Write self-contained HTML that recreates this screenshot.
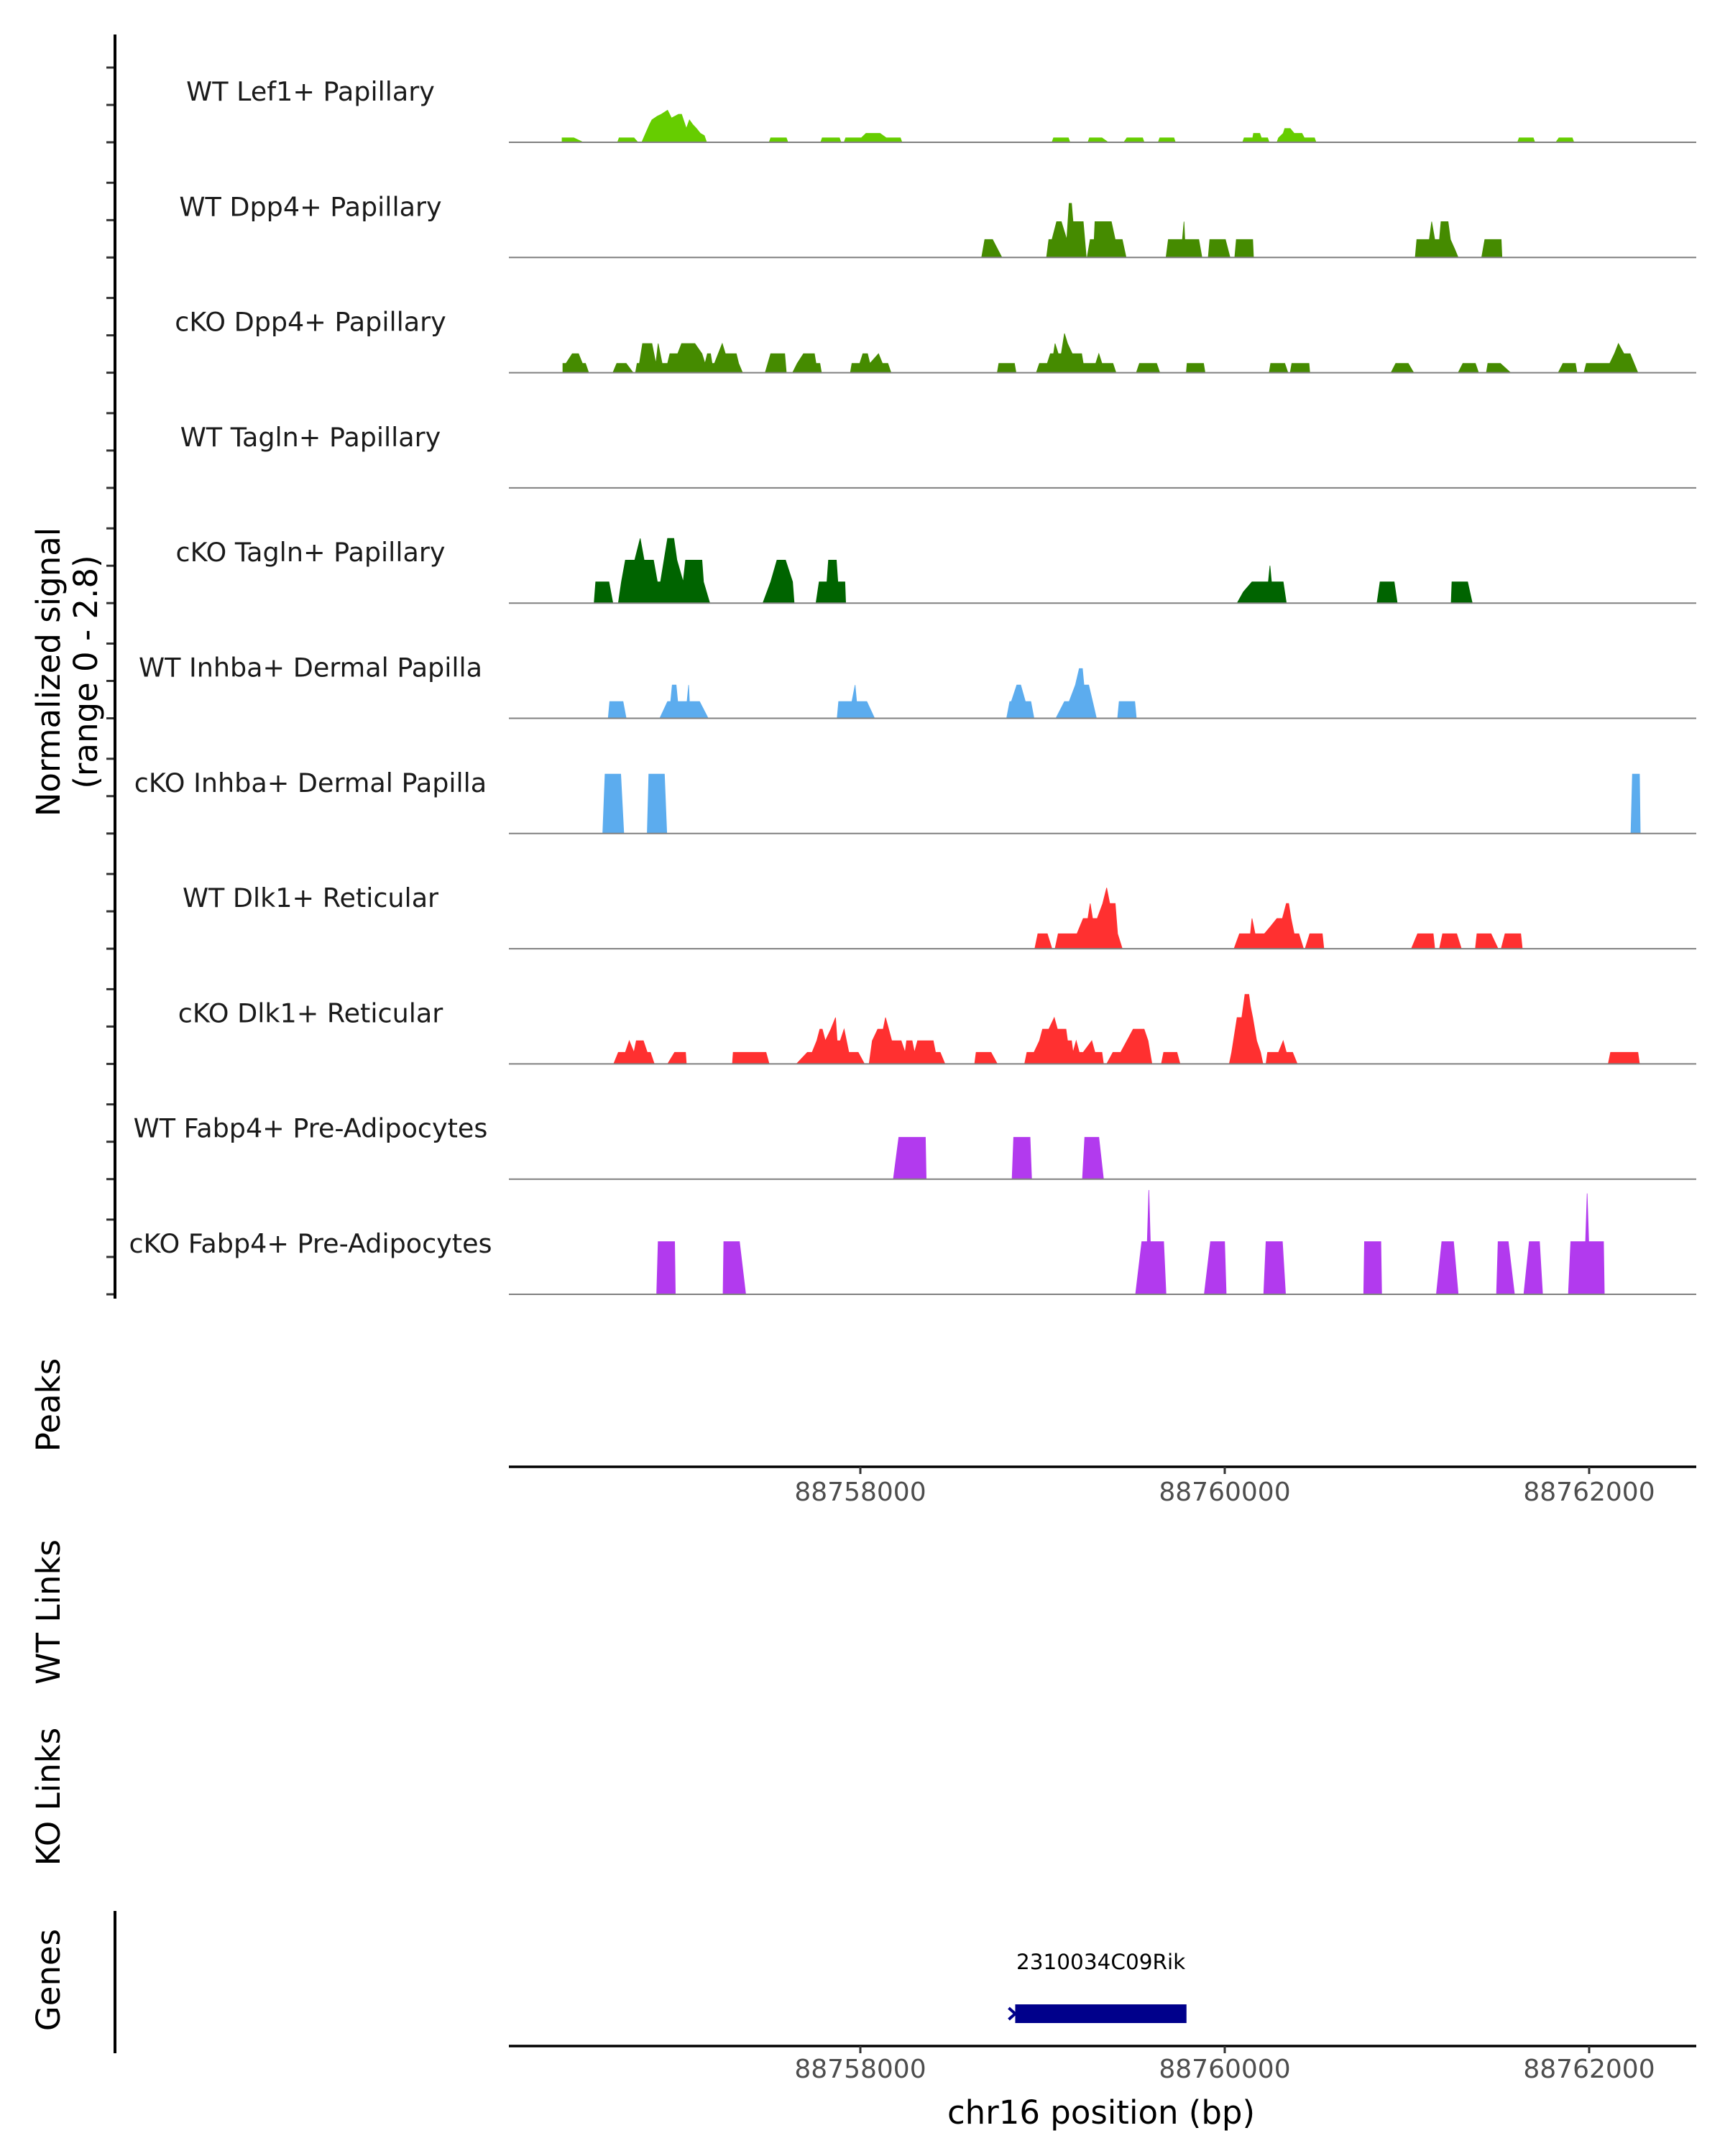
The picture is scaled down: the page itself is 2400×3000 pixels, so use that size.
<!DOCTYPE html>
<html><head><meta charset="utf-8">
<style>
html,body{margin:0;padding:0;background:#fff;}
svg{display:block;font-family:"DejaVu Sans","Liberation Sans",sans-serif;}
</style></head>
<body>
<svg id="chart" width="2400" height="3000" viewBox="0 0 2400 3000" xmlns="http://www.w3.org/2000/svg">
<g id="tracks"></g>
<g id="axes"></g>
</svg>
<script>
// ---- data ----
const regionStart = 88756050;   // bp at bin 0
const binSize = 4.288;          // bp per bin
const trackNames = ["WT Lef1+ Papillary","WT Dpp4+ Papillary","cKO Dpp4+ Papillary","WT Tagln+ Papillary","cKO Tagln+ Papillary","WT Inhba+ Dermal Papilla","cKO Inhba+ Dermal Papilla","WT Dlk1+ Reticular","cKO Dlk1+ Reticular","WT Fabp4+ Pre-Adipocytes","cKO Fabp4+ Pre-Adipocytes"];
const trackColors = ["#66CD00","#458B00","#458B00","#006400","#006400","#5CACEE","#5CACEE","#FF3030","#FF3030","#B23AEE","#B23AEE"];
const xTicks = [88758000, 88760000, 88762000];
const yTicks = [0, 1, 2];
const geneName = "2310034C09Rik";
const geneStart = 88758850;
const geneEnd = 88759790;

const cov0 = [
[73,0,73,.12,88,.12,100,0],[144,0,146,.12,165,.12,170,0],
[175,0,180,.24,185,.48,188,.6,195,.7,200,.75,208,.86,213,.65,222,.75,226,.75,232,.37,236,.6,240,.48,245,.37,250,.24,255,.18,258,0],
[338,0,340,.12,360,.12,362,0],[404,0,406,.12,428,.12,430,0],
[434,0,436,.12,456,.12,462,.24,480,.24,488,.12,506,.12,508,0],
[700,0,702,.12,721,.12,723,0],[746,0,748,.12,764,.12,772,0],[792,0,796,.12,816,.12,818,0],[836,0,838,.12,856,.12,858,0],
[944,0,946,.12,957,.12,958,.24,966,.24,968,.12,976,.12,978,0],
[988,0,990,.12,996,.24,998,.37,1005,.37,1010,.24,1020,.24,1023,.12,1036,.12,1038,0],
[1296,0,1298,.12,1316,.12,1318,0],[1345,0,1349,.12,1366,.12,1368,0]];
const cov1 = [
[610,0,614,.48,624,.48,636,0],
[693,0,696,.48,700,.48,706,.96,712,.96,719,.48,722,1.45,725,1.45,727,.96,740,.96,744,0],
[745,0,749,.48,754,.48,755,.96,776,.96,781,.48,790,.48,795,0],
[846,0,849,.48,867,.48,869,.96,870,.48,888,.48,892,0],
[900,0,902,.48,922,.48,928,0],[934,0,936,.48,957,.48,958,0],
[1165,0,1167,.48,1183,.48,1186,.96,1190,.48,1196,.48,1198,.96,1207,.96,1210,.48,1216,.2,1220,0],
[1250,0,1254,.48,1275,.48,1276,0]];
const cov2 = [
[74,0,74,.25,78,.25,86,.51,94,.51,99,.25,103,.25,107,0],
[138,0,143,.25,155,.25,164,0],
[167,0,169,.25,172,.25,176,.78,188,.78,193,.25,196,.78,201,.25,208,.25,211,.51,221,.51,226,.78,243,.78,252,.51,256,.25,259,.51,263,.51,265,.25,268,.25,278,.78,282,.51,296,.51,299,.25,304,0],
[333,0,340,.51,358,.51,360,0],
[368,0,374,.25,382,.51,396,.51,398,.25,403,.25,405,0],
[442,0,444,.25,454,.25,458,.51,464,.51,467,.25,478,.51,483,.25,490,.25,494,0],
[630,0,632,.25,652,.25,654,0],
[680,0,684,.25,694,.25,698,.51,702,.51,704,.78,708,.51,712,.51,716,1.05,720,.78,726,.51,738,.51,740,.25,756,.25,760,.51,764,.25,778,.25,782,0],
[808,0,812,.25,834,.25,838,0],[872,0,873,.25,894,.25,896,0],
[978,0,980,.25,998,.25,1002,0],[1005,0,1007,.25,1029,.25,1030,0],
[1134,0,1140,.25,1156,.25,1163,0],[1220,0,1226,.25,1242,.25,1246,0],
[1256,0,1258,.25,1274,.25,1287,0],[1348,0,1354,.25,1370,.25,1372,0],
[1381,0,1384,.25,1414,.25,1420,.51,1425,.78,1432,.51,1440,.51,1450,0]];
const cov3 = [];
const cov4 = [
[114,0,116,.57,133,.57,138,0],
[145,0,149,.57,154,1.15,166,1.15,173,1.73,178,1.15,190,1.15,195,.57,199,.57,208,1.73,216,1.73,220,1.15,228,.57,231,1.15,252,1.15,254,.57,262,0],
[330,0,340,.57,348,1.15,359,1.15,368,.57,370,0],
[398,0,402,.57,412,.57,414,1.15,424,1.15,426,.57,435,.57,436,0],
[937,0,945,.3,956,.57,977,.57,979,1.0,981,.57,996,.57,1000,0],
[1116,0,1120,.57,1138,.57,1142,0],[1211,0,1212,.57,1232,.57,1238,0]];
const cov5 = [
[132,0,134,.45,151,.45,155,0],
[198,0,208,.45,212,.45,214,.89,219,.89,221,.45,233,.45,235,.89,236,.45,249,.45,260,0],
[425,0,427,.45,444,.45,448,.89,450,.45,463,.45,473,0],
[642,0,646,.45,648,.45,655,.89,660,.89,666,.45,673,.45,677,0],
[705,0,716,.45,722,.45,730,.89,735,1.33,739,1.33,741,.89,747,.89,752,.45,757,0],
[784,0,786,.45,806,.45,808,0]];
const cov6 = [
[125,0,128,1.59,148,1.59,152,0],[182,0,184,1.59,204,1.59,207,0],[1441,0,1443,1.59,1452,1.59,1453,0]];
const cov7 = [
[678,0,682,.4,694,.4,700,0],
[704,0,708,.4,732,.4,740,.81,746,.81,749,1.21,752,.81,758,.81,765,1.21,770,1.63,774,1.21,781,1.21,784,.4,790,0],
[933,0,940,.4,954,.4,956,.81,960,.4,972,.4,980,.6,988,.81,995,.81,1000,1.21,1003,1.21,1006,.81,1010,.4,1016,.4,1022,0],
[1024,0,1030,.4,1046,.4,1048,0],[1160,0,1168,.4,1188,.4,1190,0],[1196,0,1200,.4,1218,.4,1224,0],
[1242,0,1244,.4,1262,.4,1271,0],[1275,0,1280,.4,1300,.4,1302,0]];
const cov8 = [
[139,0,145,.31,154,.31,159,.62,165,.31,168,.62,177,.62,182,.31,186,.31,191,0],
[208,0,217,.31,231,.31,232,0],[291,0,292,.31,334,.31,338,0],
[373,0,387,.31,393,.31,399,.62,403,.93,406,.93,410,.62,417,.93,423,1.24,425,.62,429,.62,434,.93,437,.62,440,.31,452,.31,460,0],
[466,0,470,.62,477,.93,484,.93,487,1.24,491,.93,495,.62,507,.62,512,.31,514,.62,521,.62,524,.31,528,.62,548,.62,551,.31,557,.31,563,0],
[601,0,603,.31,622,.31,630,0],
[665,0,668,.31,677,.31,684,.62,688,.93,696,.93,703,1.24,707,.93,718,.93,720,.62,725,.62,727,.31,731,.62,735,.31,740,.31,751,.62,755,.31,764,.31,766,0],
[770,0,778,.31,788,.31,796,.62,804,.93,818,.93,823,.62,828,0],
[840,0,843,.31,860,.31,864,0],
[927,0,930,.31,937,1.24,943,1.24,945,1.55,947,1.86,952,1.86,954,1.55,957,1.24,962,.62,967,.31,970,0],
[974,0,976,.31,990,.31,996,.62,1000,.31,1008,.31,1014,0],
[1412,0,1415,.31,1450,.31,1452,0]];
const cov9 = [
[497,0,504,1.12,538,1.12,539,0],[649,0,651,1.12,672,1.12,674,0],[739,0,742,1.12,760,1.12,766,0]];
const cov10 = [
[194,0,196,1.41,217,1.41,218,0],[279,0,280,1.41,300,1.41,308,0],
[807,0,815,1.41,822,1.41,824,2.79,826,1.41,843,1.41,846,0],
[895,0,903,1.41,921,1.41,923,0],[971,0,974,1.41,995,1.41,999,0],
[1099,0,1100,1.41,1121,1.41,1122,0],[1192,0,1199,1.41,1214,1.41,1220,0],
[1269,0,1271,1.41,1284,1.41,1292,0],[1304,0,1311,1.41,1324,1.41,1328,0],
[1361,0,1364,1.41,1383,1.41,1385,2.7,1387,1.41,1406,1.41,1407,0]];
const coverage = [cov0,cov1,cov2,cov3,cov4,cov5,cov6,cov7,cov8,cov9,cov10];

// ---- scales ----
const NS = "http://www.w3.org/2000/svg";
const plotX0 = 708, plotX1 = 2360;
function xScale(bp){ return 1197 + (bp - 88758000) * 0.25350; }
function binToBp(b){ return regionStart + b * binSize; }
function baseY(i){ return 198 + i * 160.3; }
function yScale(i, v){ return baseY(i) - v * 52; }
function mk(tag, attrs, parent){ const e = document.createElementNS(NS, tag); for (const k in attrs) e.setAttribute(k, attrs[k]); parent.appendChild(e); return e; }

const tracks = document.getElementById('tracks');
const axes = document.getElementById('axes');

trackNames.forEach((name, i) => {
  const g = mk('g', {}, tracks);
  
  
  const lab = mk('text', {x: 432, y: baseY(i) - 58, 'text-anchor': 'middle', 'font-size': 36.5, fill: '#1a1a1a'}, g);
  lab.textContent = name;
  
  
  coverage[i].forEach(seg => {
    let d = '';
    for (let k = 0; k < seg.length; k += 2) {
      d += (k ? 'L' : 'M') + xScale(binToBp(seg[k])).toFixed(1) + ',' + yScale(i, seg[k + 1]).toFixed(1);
    }
    const p = mk('path', {d: d + 'Z', fill: trackColors[i], stroke: trackColors[i], 'stroke-width': 0.8}, g);
    
    
  });
  const bl = mk('line', {x1: plotX0, x2: plotX1, y1: baseY(i), y2: baseY(i), stroke: '#808080', 'stroke-width': 2}, g);
  
  
  yTicks.forEach(t => {
    const tk = mk('line', {x1: 148, x2: 160, y1: yScale(i, t), y2: yScale(i, t), stroke: '#333', 'stroke-width': 3}, axes);
    
    
  });
});

const ya = mk('line', {x1: 160, x2: 160, y1: 48, y2: 1807, stroke: '#000', 'stroke-width': 4}, axes);


const yt = mk('text', {transform: 'translate(83,935) rotate(-90)', 'text-anchor': 'middle', 'font-size': 45, fill: '#000'}, axes);
yt.textContent = 'Normalized signal';


const yt2 = mk('text', {transform: 'translate(135,935) rotate(-90)', 'text-anchor': 'middle', 'font-size': 45, fill: '#000'}, axes);
yt2.textContent = '(range 0 - 2.8)';



[['Peaks', 1955, 'peaks-label'], ['WT Links', 2243, 'wt-links-label'], ['KO Links', 2500, 'ko-links-label'], ['Genes', 2755, 'genes-label']].forEach(a => {
  const t = mk('text', {transform: 'translate(83,' + a[1] + ') rotate(-90)', 'text-anchor': 'middle', 'font-size': 45, fill: '#000'}, axes);
  t.textContent = a[0];
  
  
});

[[2041, 2088, 'peaks-x-axis'], [2847, 2891, 'genes-x-axis']].forEach(a => {
  const l = mk('line', {x1: plotX0, x2: plotX1, y1: a[0], y2: a[0], stroke: '#000', 'stroke-width': 3.5}, axes);
  
  
  xTicks.forEach(t => {
    const tk = mk('line', {x1: xScale(t), x2: xScale(t), y1: a[0], y2: a[0] + 10, stroke: '#333', 'stroke-width': 3}, axes);
    
    
    const tl = mk('text', {x: xScale(t), y: a[1], 'text-anchor': 'middle', 'font-size': 36, fill: '#4d4d4d'}, axes);
    tl.textContent = t;
    
    
  });
});
const xt = mk('text', {x: 1532, y: 2955, 'text-anchor': 'middle', 'font-size': 45, fill: '#000'}, axes);
xt.textContent = 'chr16 position (bp)';



const gl = mk('line', {x1: 160, x2: 160, y1: 2659, y2: 2857, stroke: '#000', 'stroke-width': 4}, axes);


const gb = mk('rect', {x: xScale(geneStart), y: 2789, width: xScale(geneEnd) - xScale(geneStart), height: 26, fill: '#00008B'}, axes);


const ga = mk('path', {d: 'M' + (xScale(geneStart) - 9) + ',2794 L' + (xScale(geneStart)) + ',2802 L' + (xScale(geneStart) - 9) + ',2810', fill: 'none', stroke: '#00008B', 'stroke-width': 4}, axes);


const gt = mk('text', {x: (xScale(geneStart) + xScale(geneEnd)) / 2, y: 2740, 'text-anchor': 'middle', 'font-size': 29.5, fill: '#000'}, axes);
gt.textContent = geneName;


</script>
</body></html>
